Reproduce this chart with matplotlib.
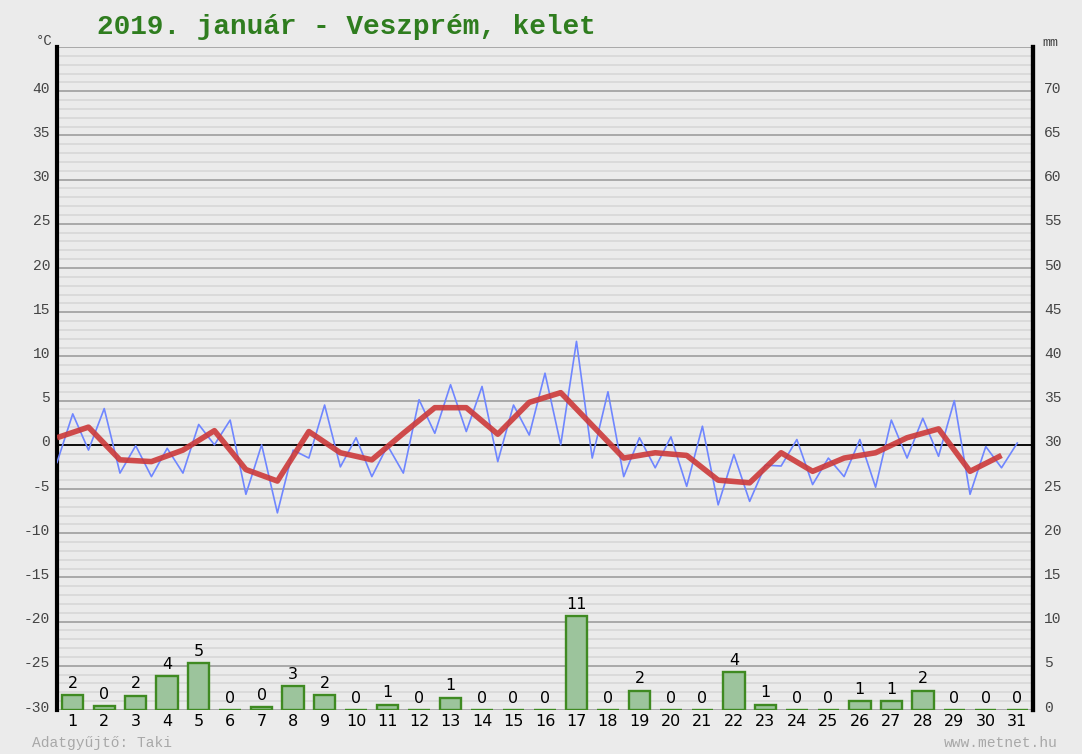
"""
Havi idojaras grafikon: 2019. januar, Veszprem kelet (metnet.hu stilusban).
Homerseklet (felnapos meresek + napi atlag) es napi csapadek oszlopok.
"""
import numpy as np
import matplotlib.pyplot as plt
import matplotlib.transforms as mtransforms

# ---- adatok ---------------------------------------------------------------
DAYS = list(range(1, 32))

# felnaponkenti homerseklet (2 ertek / nap), degC
TEMP_HALF = [
    -2.0, 3.5, -0.6, 4.1, -3.2, -0.1, -3.6, -0.4, -3.2, 2.3,
    0.0, 2.8, -5.6, 0.0, -7.7, -0.6, -1.5, 4.5, -2.5, 0.8,
    -3.6, -0.1, -3.2, 5.1, 1.3, 6.8, 1.5, 6.6, -1.9, 4.5,
    1.1, 8.1, 0.0, 11.7, -1.5, 6.0, -3.6, 0.8, -2.6, 0.9,
    -4.7, 2.1, -6.8, -1.1, -6.4, -2.3, -2.4, 0.6, -4.5, -1.5,
    -3.6, 0.6, -4.8, 2.8, -1.5, 3.0, -1.3, 5.0, -5.6, -0.2,
    -2.6, 0.2,
]

# napi kozephomerseklet, degC
TEMP_MEAN = [
    0.8, 2.0, -1.7, -1.9, -0.6, 1.6, -2.8, -4.1, 1.5, -0.9,
    -1.7, 1.3, 4.2, 4.2, 1.2, 4.8, 5.9, 2.2, -1.5, -0.9,
    -1.2, -4.0, -4.3, -0.9, -3.0, -1.5, -0.9, 0.8, 1.8, -3.0,
    -1.2,
]

# napi csapadek, mm
PRECIP = [
    1.7, 0.4, 1.6, 3.8, 5.3, 0.0, 0.3, 2.7, 1.7, 0.0,
    0.6, 0.0, 1.4, 0.0, 0.0, 0.0, 10.6, 0.0, 2.2, 0.0,
    0.0, 4.3, 0.6, 0.0, 0.0, 1.0, 1.0, 2.2, 0.0, 0.0,
    0.0,
]

TEMP_TICKS = list(range(-30, 41, 5))
MM_TICKS = list(range(0, 71, 5))

TITLE = "2019. január - Veszprém, kelet"
FOOT_LEFT = "Adatgyűjtő: Taki"
FOOT_RIGHT = "www.metnet.hu"
# -------------------------------------------------------------------------

BG = "#ebebeb"
MONO = "Liberation Mono"

fig = plt.figure(figsize=(10.82, 7.54), dpi=100, facecolor=BG)
ax = fig.add_axes([57 / 1082, 1 - 710 / 754, 976 / 1082, 663 / 754])
ax.set_facecolor(BG)
ax.set_xlim(0, 31)
ax.set_ylim(-30, 45)

# racsvonalak: 1 fokonkent halvany, 5 fokonkent sotetebb
for t in range(-29, 45):
    if t % 5:
        ax.axhline(t, color="#dadada", lw=1.4, zorder=0)
for t in range(-30, 46, 5):
    ax.axhline(t, color="#a3a3a3", lw=1.3, zorder=0.5)
ax.axhline(0, color="black", lw=1.3, zorder=1)

for side in ["top", "bottom"]:
    ax.spines[side].set_visible(False)
for side in ["left", "right"]:
    ax.spines[side].set_linewidth(3)
    ax.spines[side].set_color("black")

# homerseklet
x_half = np.arange(len(TEMP_HALF)) * 0.5
ax.plot(x_half, TEMP_HALF, color="#6f86ff", lw=1.2, zorder=3)
x_mean = np.arange(len(TEMP_MEAN))
ax.plot(x_mean, TEMP_MEAN, color="#cc3a3a", lw=4, alpha=0.9,
        solid_capstyle="butt", zorder=4)

ax.set_yticks(TEMP_TICKS)
ax.set_yticklabels([str(t) for t in TEMP_TICKS], family=MONO,
                   fontsize=10.5, color="#444444")
ax.tick_params(axis="y", length=0, pad=5)
ax.set_xticks([d - 0.5 for d in DAYS])
ax.set_xticklabels([str(d) for d in DAYS], fontsize=11.5, color="black")
ax.tick_params(axis="x", length=0, pad=3)

# csapadek a jobb oldali tengelyen
ax2 = ax.twinx()
ax2.set_ylim(0, 75)
for side in ["top", "bottom", "left"]:
    ax2.spines[side].set_visible(False)
ax2.spines["right"].set_linewidth(3)
ax2.bar([d - 0.5 for d in DAYS], PRECIP, width=0.68, color="#9cc49c",
        edgecolor="#3f8a22", linewidth=1.7, zorder=5)
for d, p in zip(DAYS, PRECIP):
    ax2.text(d - 0.5, p + 0.5, f"{p:.0f}", ha="center", va="bottom",
             fontsize=11.5, color="black")
ax2.set_yticks(MM_TICKS)
ax2.set_yticklabels([str(m) for m in MM_TICKS], family=MONO,
                    fontsize=10.5, color="#444444")
ax2.tick_params(axis="y", length=0, pad=8)

# felirat kicsit a vonal folott
shift = mtransforms.ScaledTranslation(0, 4 / 100, fig.dpi_scale_trans)
for lab in ax.get_yticklabels() + ax2.get_yticklabels():
    lab.set_transform(lab.get_transform() + shift)

fig.text(97 / 1082, 1 - 27 / 754, TITLE, family=MONO, fontweight="bold",
         fontsize=20, color="#2f7d1f", va="center", ha="left")
fig.text(52 / 1082, 1 - 41 / 754, "°C", family=MONO, fontsize=10,
         color="#444444", ha="right", va="center")
fig.text(1042 / 1082, 1 - 43 / 754, "mm", family=MONO, fontsize=9.5,
         color="#444444", ha="left", va="center")
fig.text(32 / 1082, 1 - 743 / 754, FOOT_LEFT, family=MONO, fontsize=10.5,
         color="#a8a8a8", ha="left", va="center")
fig.text(1058 / 1082, 1 - 743 / 754, FOOT_RIGHT, family=MONO, fontsize=10.5,
         color="#a8a8a8", ha="right", va="center")

fig.savefig("out.png", dpi=100, facecolor=BG)
